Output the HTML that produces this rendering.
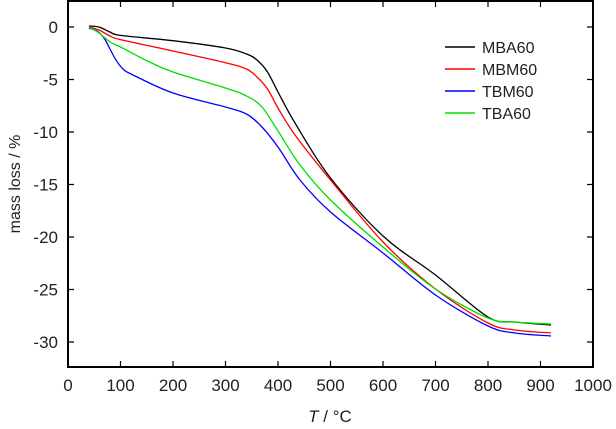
<!DOCTYPE html>
<html><head><meta charset="utf-8"><style>body{margin:0;background:#fff}svg{display:block}text{font-family:"Liberation Sans",Arial,sans-serif;fill:#222}</style></head>
<body>
<svg id="s" width="616" height="429" viewBox="0 0 616 429" xmlns="http://www.w3.org/2000/svg">
<g font-size="17" text-anchor="middle">
<text x="68" y="391">0</text><text x="120.5" y="391">100</text><text x="173" y="391">200</text><text x="225.5" y="391">300</text><text x="278" y="391">400</text><text x="330.5" y="391">500</text><text x="383" y="391">600</text><text x="435.5" y="391">700</text><text x="488" y="391">800</text><text x="540.5" y="391">900</text><text x="593" y="391">1000</text>
</g>
<g font-size="17" text-anchor="end">
<text x="58" y="33">0</text><text x="58" y="85.5">-5</text><text x="58" y="138">-10</text><text x="58" y="190.5">-15</text><text x="58" y="243">-20</text><text x="58" y="295.5">-25</text><text x="58" y="348">-30</text>
</g>
<text x="330" y="422" font-size="17" text-anchor="middle"><tspan font-style="italic">T</tspan> / °C</text>
<text transform="translate(20,184) rotate(-90)" font-size="16" text-anchor="middle">mass loss / %</text>
<g stroke="#000" stroke-width="1.2">
<path d="M120.5 367v-6M173 367v-6M225.5 367v-6M278 367v-6M330.5 367v-6M383 367v-6M435.5 367v-6M488 367v-6M540.5 367v-6
M120.5 1v6M173 1v6M225.5 1v6M278 1v6M330.5 1v6M383 1v6M435.5 1v6M488 1v6M540.5 1v6
M68 27h6M68 79.5h6M68 132h6M68 184.5h6M68 237h6M68 289.5h6M68 342h6
M593 27h-6M593 79.5h-6M593 132h-6M593 184.5h-6M593 237h-6M593 289.5h-6M593 342h-6"/>
</g>
<rect x="68" y="1" width="525" height="366" fill="none" stroke="#000" stroke-width="2"/>
<g fill="none" stroke-width="1.3" stroke-linejoin="round">
<path id="k" stroke="#000"/><path id="r" stroke="#f00"/><path id="b" stroke="#00f"/><path id="g" stroke="#0d0"/>
</g>
<g stroke-width="1.5">
<line x1="445" y1="47" x2="475" y2="47" stroke="#000"/><line x1="445" y1="69" x2="475" y2="69" stroke="#f00"/><line x1="445" y1="91" x2="475" y2="91" stroke="#00f"/><line x1="445" y1="113" x2="475" y2="113" stroke="#0d0"/>
</g>
<g font-size="16"><text x="482" y="53">MBA60</text><text x="482" y="75">MBM60</text><text x="482" y="97">TBM60</text><text x="482" y="119">TBA60</text></g>
</svg>
<script>
function cr(p){var d="M"+p[0]+" "+p[1];for(var i=0;i<p.length-2;i+=2){var x0=p[i-2]!==undefined?p[i-2]:p[i],y0=p[i-1]!==undefined?p[i-1]:p[i+1];var x1=p[i],y1=p[i+1],x2=p[i+2],y2=p[i+3];var x3=p[i+4]!==undefined?p[i+4]:x2,y3=p[i+5]!==undefined?p[i+5]:y2;d+=" C"+(x1+(x2-x0)/6)+" "+(y1+(y2-y0)/6)+" "+(x2-(x3-x1)/6)+" "+(y2-(y3-y1)/6)+" "+x2+" "+y2;}return d;}
var D={k:[89,26,99,27,110,32,120.5,35.4,173,40.7,225.5,48,246.5,54,257,60,267.5,72,278,92,295,123,330.5,178,383,236,435.5,275,488,317,515,322,551,325],
r:[89,27,99,30,110,36,120.5,39.6,173,51,225.5,62.7,246.5,69,257,77,267.5,89,278,108,295,135,330.5,180,383,242,435.5,289,488,323,515,330,551,333],
b:[89,28,97,31,104,38,110,49,116,60,123,69,133,75,173,93,225.5,107,246.5,114,262,127,278,147,300,180,330.5,212,383,253,435.5,295,488,326,515,333,551,336],
g:[89,27,99,33,110,42,120.5,47,147.5,61,173,72,225.5,88,246.5,96,262,107,278,131,300,165,330.5,200,383,247,435.5,289,488,318,515,322,551,324]};
for(var k in D)document.getElementById(k).setAttribute("d",cr(D[k]));
</script>
</body></html>
